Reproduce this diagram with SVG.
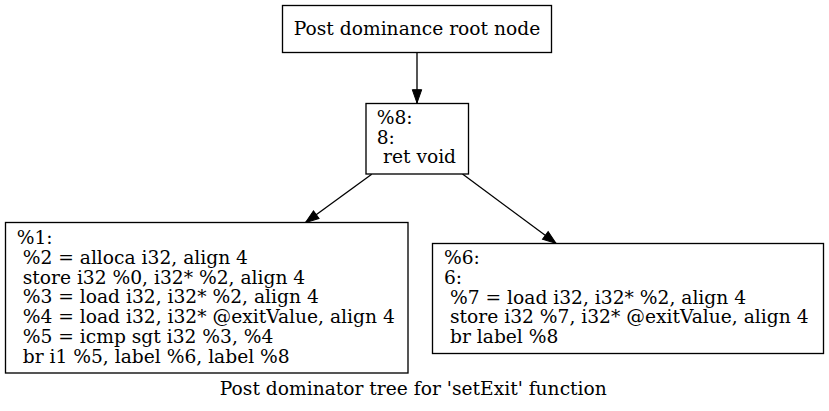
<svg xmlns="http://www.w3.org/2000/svg" width="829" height="411" viewBox="0 0 829 411">
<defs>
<style>
.box{fill:#fff;stroke:#000;stroke-width:1.33}
.t{font-family:"DejaVu Serif","Liberation Serif",serif;font-size:18.67px;fill:#000}
.edge{stroke:#000;stroke-width:1.33;fill:none;marker-end:url(#arr)}
</style>
<marker id="arr" markerUnits="userSpaceOnUse" markerWidth="14" markerHeight="10" refX="13.3" refY="4.7" orient="auto" overflow="visible">
<path d="M0,0 L13.3,4.7 L0,9.4 z" fill="#000" stroke="#000" stroke-width="1"/>
</marker>
</defs>
<rect width="829" height="411" fill="#fff"/>
<g id="connectors">
<line class="edge" x1="417" y1="52.5" x2="417" y2="103"/>
<line class="edge" x1="371.7" y1="174.3" x2="305.5" y2="222.5"/>
<line class="edge" x1="462.5" y1="174" x2="556" y2="243.3"/>
</g>
<g id="root">
<rect class="box" x="282.5" y="5.5" width="269" height="47"/>
<text class="t" x="417" y="35" text-anchor="middle">Post dominance root node</text>
</g>
<g id="n8">
<rect class="box" x="366" y="103.5" width="102.5" height="70.5"/>
<text class="t" x="376.7" y="124">%8:</text>
<text class="t" x="376.7" y="143.6">8:</text>
<text class="t" x="383" y="163.2">ret void</text>
</g>
<g id="n1">
<rect class="box" x="5.5" y="222.5" width="402.5" height="150.5"/>
<text class="t" x="16.7" y="244.3">%1:</text>
<text class="t" x="22.7" y="264">%2 = alloca i32, align 4</text>
<text class="t" x="22.7" y="283.7">store i32 %0, i32* %2, align 4</text>
<text class="t" x="22.7" y="303.4">%3 = load i32, i32* %2, align 4</text>
<text class="t" x="22.7" y="323.1">%4 = load i32, i32* @exitValue, align 4</text>
<text class="t" x="22.7" y="342.8">%5 = icmp sgt i32 %3, %4</text>
<text class="t" x="22.7" y="362.5">br i1 %5, label %6, label %8</text>
</g>
<g id="n6">
<rect class="box" x="432.5" y="243.5" width="391" height="110"/>
<text class="t" x="444" y="264">%6:</text>
<text class="t" x="444" y="283.8">6:</text>
<text class="t" x="450" y="303.6">%7 = load i32, i32* %2, align 4</text>
<text class="t" x="450" y="323.4">store i32 %7, i32* @exitValue, align 4</text>
<text class="t" x="450" y="343.2">br label %8</text>
</g>
<text class="t" x="413.3" y="395" text-anchor="middle">Post dominator tree for 'setExit' function</text>
</svg>
